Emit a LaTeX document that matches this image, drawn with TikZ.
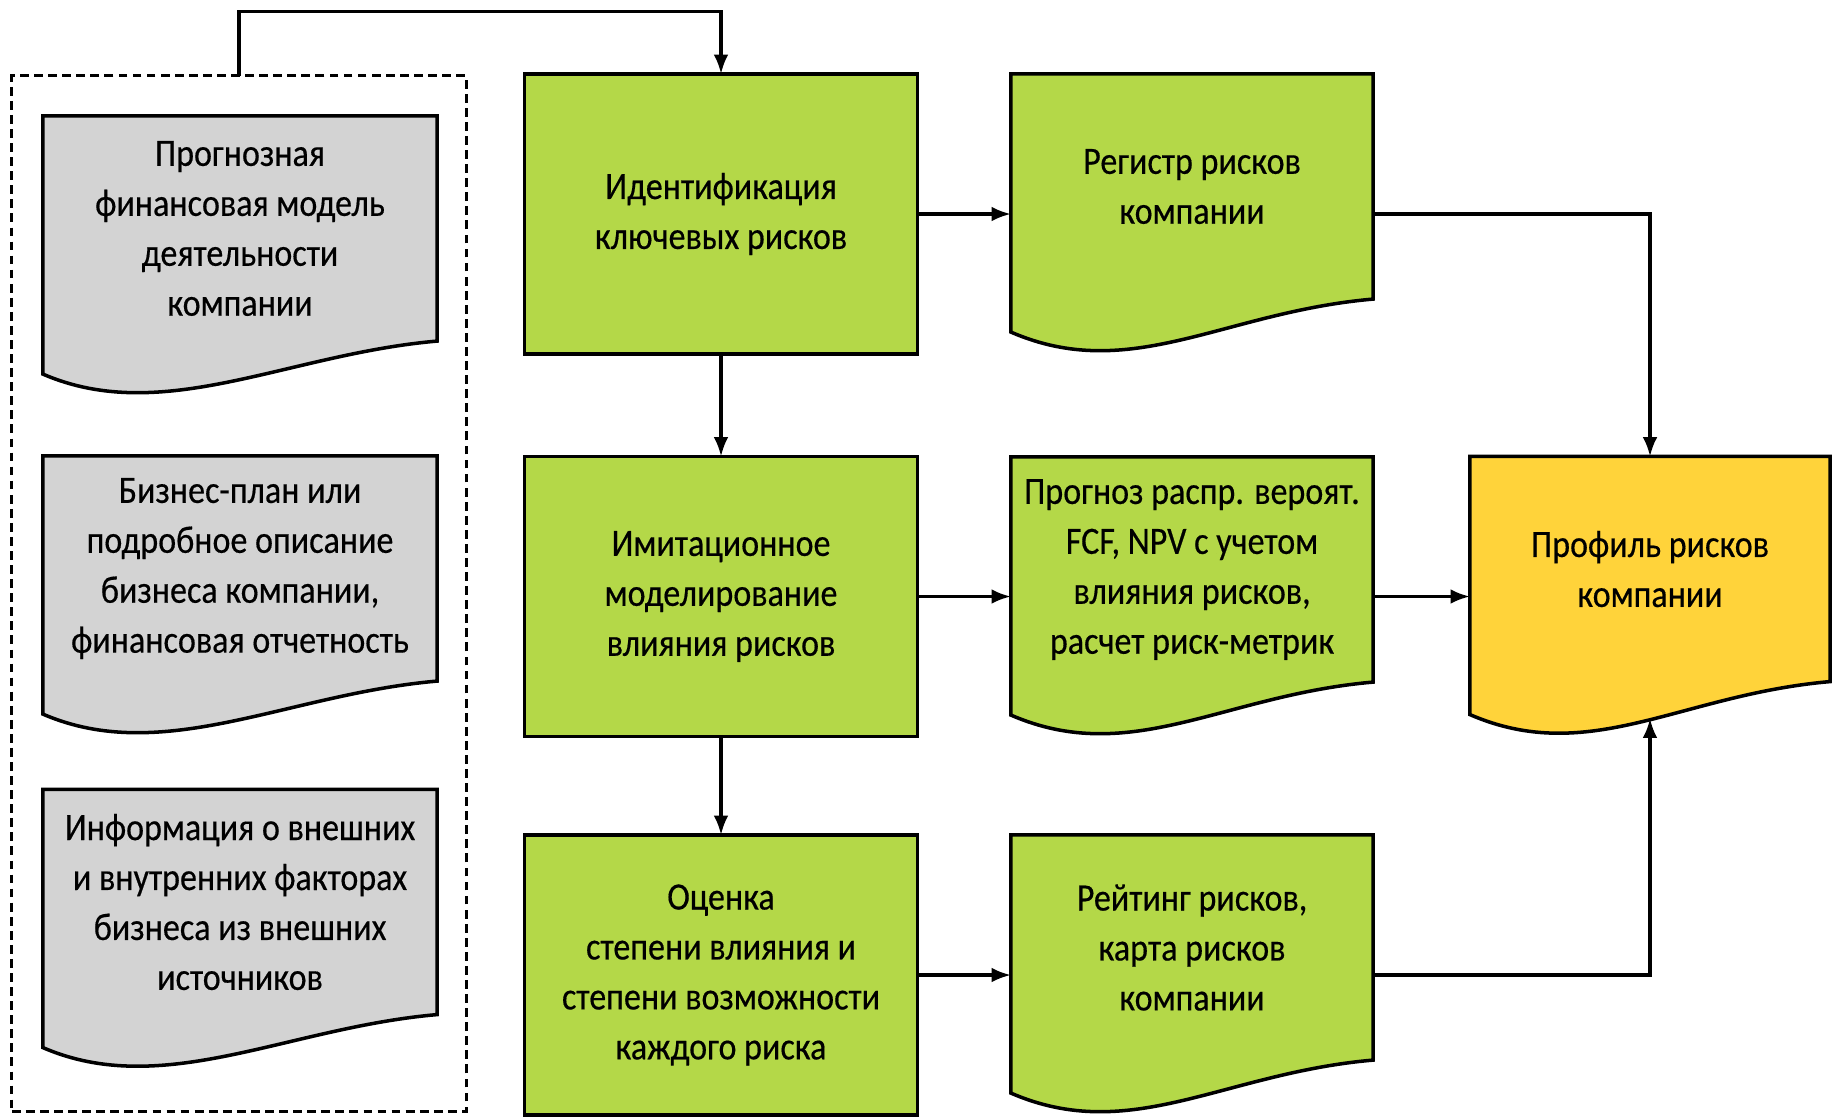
\documentclass[tikz,border=0pt]{standalone}
\usepackage{fontspec}
\setmainfont{Carlito}[FakeStretch=0.88, FakeBold=0.4]
\usepackage{tikz}
\usetikzlibrary{positioning, arrows.meta, calc, backgrounds}

\definecolor{leaf}{RGB}{180,216,72}
\definecolor{sun}{RGB}{255,211,58}
\definecolor{paper}{RGB}{211,211,211}

\begin{document}
\begin{tikzpicture}[x=0.01cm, y=-0.01cm,
    every node/.style={font=\fontsize{11}{14.2}\selectfont},
    action/.style={draw, line width=1pt, fill=leaf, minimum width=3.93cm,
      minimum height=2.8cm, align=center, outer sep=0pt},
    docnode/.style={minimum width=#1, minimum height=2.25cm, align=center,
      inner sep=0pt, outer sep=0pt},
    docnode/.default=3.62cm,
    docline/.style={line width=1pt, line join=miter},
    link/.style={line width=0.9pt, -{Latex[length=5.5pt,width=4.2pt]}}]
    \useasboundingbox (0,0) rectangle (1837,1117);

    % dashed frame round the input data
    \node[draw, line width=0.8pt, dash pattern=on 2.5pt off 1.5pt,
      minimum width=4.54cm, minimum height=10.35cm, outer sep=0pt] (inputs) at (239,593.5) {};

    % input documents
    \node[docnode=3.94cm] (forecast) at (240,228.5) {Прогнозная\\финансовая модель\\деятельности\\компании};
    \node[docnode=3.94cm] (plan) at (240,568.5) {Бизнес-план или\\подробное описание\\бизнеса компании,\\финансовая отчетность};
    \node[docnode=3.94cm] (external) at (240,902) {Информация о внешних\\и внутренних факторах\\бизнеса из внешних\\источников};

    % process steps
    \node[action] (ident) at (721,214) {Идентификация\\ключевых рисков};
    \node[action] (simul) at (721,596.5) {Имитационное\\моделирование\\влияния рисков};
    \node[action] (assess) at (721,975) {Оценка\\степени влияния и\\степени возможности\\каждого риска};

    % output documents
    \node[docnode] (register) at (1192,186.5) {Регистр рисков\\компании};
    \node[docnode] (distrib) at (1192,569.5) {Прогноз распр. вероят.\\FCF, NPV с учетом\\влияния рисков,\\расчет риск-метрик};
    \node[docnode] (rating) at (1192,947.5) {Рейтинг рисков,\\карта рисков\\компании};

    % result
    \node[docnode=3.60cm] (profile) at (1650,569) {Профиль рисков\\компании};
    \coordinate (wave) at ($(profile.south)+(0,37)$);

    % document outlines with the wavy bottom
    \begin{scope}[on background layer]
      \filldraw[docline, fill=paper] (forecast.north west) -- (forecast.north east) -- (forecast.south east)
        .. controls +(-150,13) and +(120,52) .. ($(forecast.south west)+(0,33)$) -- cycle;
      \filldraw[docline, fill=paper] (plan.north west) -- (plan.north east) -- (plan.south east)
        .. controls +(-150,13) and +(120,52) .. ($(plan.south west)+(0,33)$) -- cycle;
      \filldraw[docline, fill=paper] (external.north west) -- (external.north east) -- (external.south east)
        .. controls +(-150,13) and +(120,52) .. ($(external.south west)+(0,33)$) -- cycle;
      \filldraw[docline, fill=leaf] (register.north west) -- (register.north east) -- (register.south east)
        .. controls +(-150,13) and +(120,52) .. ($(register.south west)+(0,33)$) -- cycle;
      \filldraw[docline, fill=leaf] (distrib.north west) -- (distrib.north east) -- (distrib.south east)
        .. controls +(-150,13) and +(120,52) .. ($(distrib.south west)+(0,33)$) -- cycle;
      \filldraw[docline, fill=leaf] (rating.north west) -- (rating.north east) -- (rating.south east)
        .. controls +(-150,13) and +(120,52) .. ($(rating.south west)+(0,33)$) -- cycle;
      \filldraw[docline, fill=sun] (profile.north west) -- (profile.north east) -- (profile.south east)
        .. controls +(-150,13) and +(120,52) .. ($(profile.south west)+(0,33)$) -- cycle;
    \end{scope}

    % connectors
    \draw[link] (inputs.north) -- ++(0,-64) -| (ident.north);
    \draw[link] (ident.south) -- (simul.north);
    \draw[link] (simul.south) -- (assess.north);
    \draw[link] (ident.east) -- (ident.east -| register.west);
    \draw[link] (simul.east) -- (simul.east -| distrib.west);
    \draw[link] (assess.east) -- (assess.east -| rating.west);
    \draw[link] (register.east |- ident.east) -| (profile.north);
    \draw[link] (distrib.east |- simul.east) -- (simul.east -| profile.west);
    \draw[link] (rating.east |- assess.east) -| (wave);
\end{tikzpicture}
\end{document}
